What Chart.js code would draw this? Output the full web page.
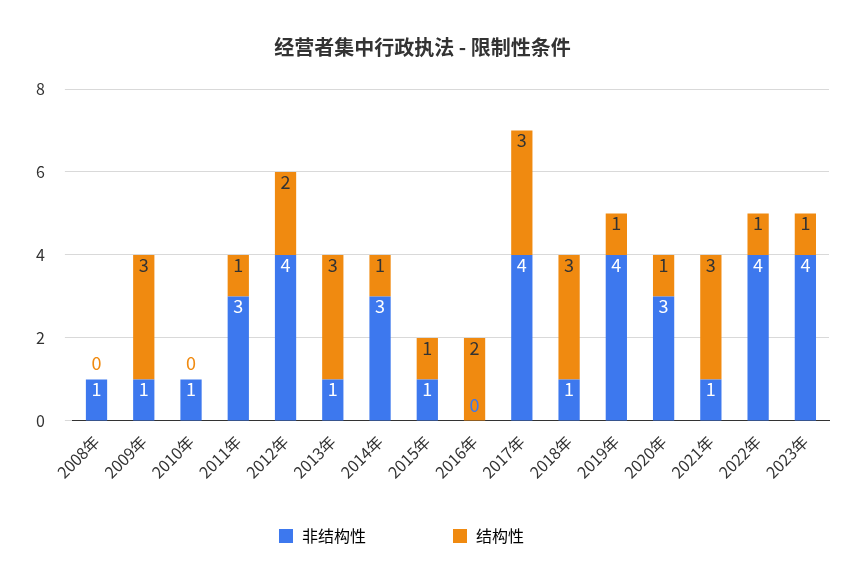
<!DOCTYPE html>
<html>
<head>
<meta charset="utf-8">
<script src="https://cdn.jsdelivr.net/npm/chart.js@4"></script>
<style>
  body { margin: 0; background: #fff; }
  #wrap { width: 863px; height: 566px; }
</style>
</head>
<body>
<div id="wrap"><canvas id="grafico"></canvas></div>
<script>
const anios = ['2008年', '2009年', '2010年', '2011年', '2012年', '2013年', '2014年', '2015年',
    '2016年', '2017年', '2018年', '2019年', '2020年', '2021年', '2022年', '2023年'];
const noEstructural = [1, 1, 1, 3, 4, 1, 3, 1, 0, 4, 1, 4, 3, 1, 4, 4];
const estructural = [0, 3, 0, 1, 2, 3, 1, 1, 2, 3, 3, 1, 1, 3, 1, 1];
const azul = '#3d78ee';
const naranja = '#f08a10';
const fuente = "'Noto Sans CJK SC', 'Noto Sans', sans-serif";

// Etiquetas de valor en la parte superior de cada segmento
const etiquetas = {
    id: 'etiquetas',
    afterDatasetsDraw(chart) {
        const ctx = chart.ctx;
        ctx.save();
        ctx.font = '18px ' + fuente;
        ctx.textAlign = 'center';
        ctx.textBaseline = 'middle';
        chart.data.datasets.forEach((ds, d) => {
            const meta = chart.getDatasetMeta(d);
            meta.data.forEach((bar, i) => {
                const v = ds.data[i];
                let y = bar.y + 10;
                if (v === 0) {
                    ctx.fillStyle = ds.backgroundColor;
                    y = d === 0 ? bar.base - 16 : bar.y - 16;
                } else {
                    ctx.fillStyle = d === 0 ? '#fff' : '#333';
                }
                ctx.fillText(String(v), bar.x, y);
            });
        });
        ctx.restore();
    }
};

new Chart(document.getElementById('grafico'), {
    type: 'bar',
    data: {
        labels: anios,
        datasets: [
            { label: '非结构性', data: noEstructural, backgroundColor: azul, barPercentage: 0.45, categoryPercentage: 1 },
            { label: '结构性', data: estructural, backgroundColor: naranja, barPercentage: 0.45, categoryPercentage: 1 }
        ]
    },
    plugins: [etiquetas],
    options: {
        responsive: true,
        maintainAspectRatio: false,
        animation: false,
        layout: { padding: { left: 16, right: 34, top: 35, bottom: 12 } },
        plugins: {
            title: {
                display: true,
                text: '经营者集中行政执法 - 限制性条件',
                color: '#333',
                font: { family: fuente, size: 20, weight: 'bold' },
                padding: { bottom: 30 }
            },
            legend: {
                position: 'bottom',
                labels: {
                    color: '#444',
                    font: { family: fuente, size: 16 },
                    boxWidth: 16,
                    boxHeight: 16,
                    padding: 43,
                    generateLabels(chart) {
                        return chart.data.datasets.map((ds, i) => ({
                            text: ds.label + '            ',
                            fillStyle: ds.backgroundColor,
                            strokeStyle: '#fff',
                            lineWidth: 2,
                            datasetIndex: i
                        }));
                    }
                }
            },
            tooltip: { enabled: false }
        },
        scales: {
            x: {
                stacked: true,
                grid: { display: false },
                border: { color: '#333' },
                ticks: { color: '#333', font: { family: fuente, size: 16 }, maxRotation: 45, minRotation: 45 }
            },
            y: {
                stacked: true,
                min: 0,
                max: 8,
                ticks: { stepSize: 2, color: '#333', font: { family: fuente, size: 16 }, padding: 20 },
                grid: { color: '#d9d9d9' },
                border: { display: false }
            }
        }
    }
});
</script>
</body>
</html>
